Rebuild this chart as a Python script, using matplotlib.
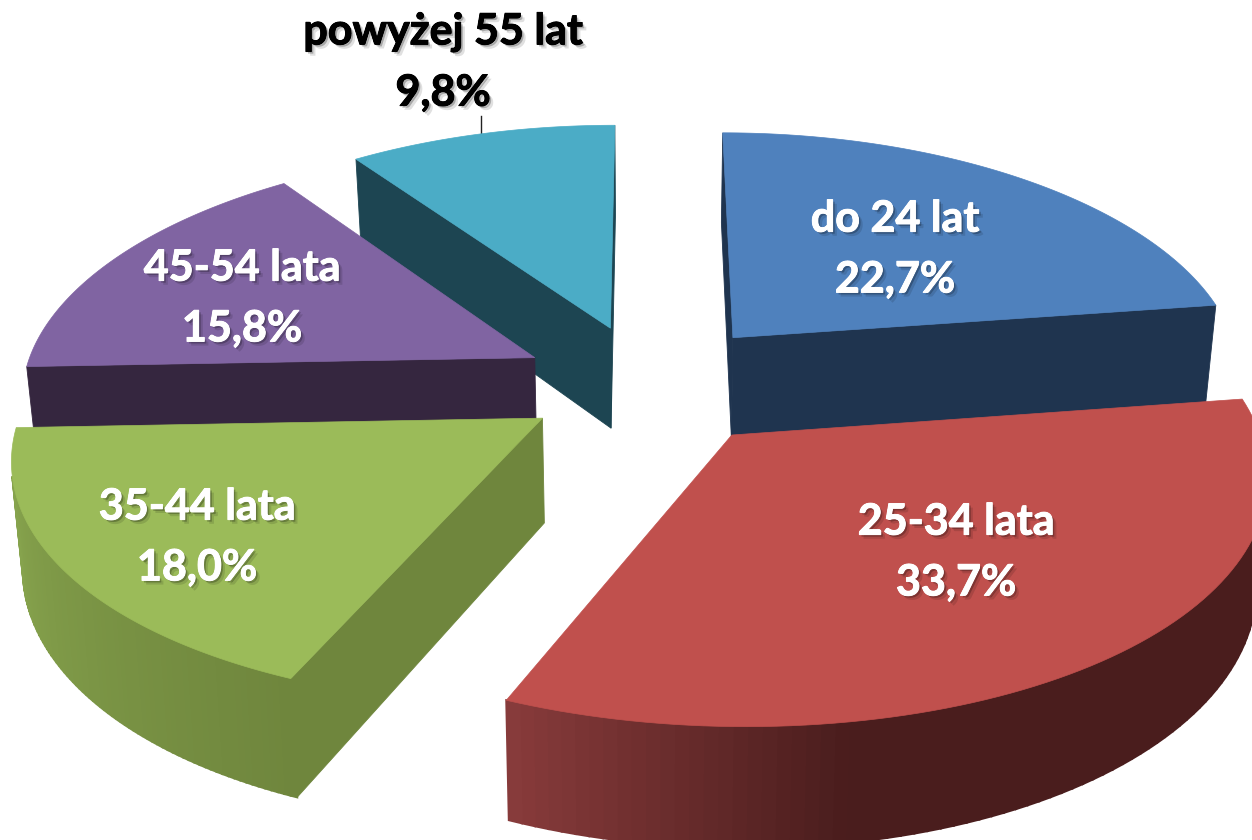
import numpy as np
import matplotlib
matplotlib.use("Agg")
import matplotlib.pyplot as plt
import matplotlib.colors as mcolors
import matplotlib.patheffects as pe
from matplotlib.patches import Polygon

# order: clockwise from 12 o'clock
categories = ["do 24 lat", "25-34 lata", "35-44 lata", "45-54 lata", "powyżej 55 lat"]
shares = [22.7, 33.7, 18.0, 15.8, 9.8]
share_labels = ["22,7%", "33,7%", "18,0%", "15,8%", "9,8%"]

top_colors = ["#4F81BD", "#C0504D", "#9BBB59", "#8064A2", "#4BACC6"]
wall_colors = ["#1F344F", "#4A1D1D", "#6F863D", "#35263F", "#1D4552"]
# rim gets lighter towards the far end of the slice (only visible on red and green)
rim_light = ["#1F344F", "#8A3C3C", "#8BA950", "#35263F", "#1D4552"]
rim_fade_end = [81.7, 170, 203, 267.8, 324.7]

label_xy = [(895, 249), (956, 552), (197, 537), (242, 298), (443, 62)]

# projection, fitted by eye against the reference
CX, CY = 648, 384
R, Q = 513, 241.3
PERSP_X, PERSP_Y = 0.14, 0.125
DEPTH = 103
BOTTOM_SHRINK = 0.982
EXPLODE = [0.26, 0.26, 0.245, 0.25, 0.25]


def project(u, v, bottom=False):
    sx = 1 / (1 - PERSP_X * v)
    sy = 1 / (1 - PERSP_Y * v)
    x = R * u * sx
    y = CY + Q * v * sy
    if bottom:
        x *= BOTTOM_SHRINK
        y += DEPTH * sy
    return np.column_stack([CX + x, y])


def facing(poly):
    x, y = poly[:, 0], poly[:, 1]
    return np.sum(x * np.roll(y, -1) - np.roll(x, -1) * y) < 0


def draw_wall(ax, top, bottom, color, zorder, lw=0.6):
    poly = np.vstack([top, bottom[::-1]])
    if facing(poly):
        ax.add_patch(Polygon(poly, closed=True, fc=color, ec=color, lw=lw, zorder=zorder))


fig = plt.figure(figsize=(12.52, 8.4), dpi=100)
ax = fig.add_axes([0, 0, 1, 1])
ax.set_xlim(0, 1252)
ax.set_ylim(840, 0)
ax.axis("off")

edges = np.concatenate([[0], np.cumsum(shares)]) / np.sum(shares) * 360
paint_order = [4, 0, 3, 2, 1]

for rank, i in enumerate(paint_order):
    a0, a1 = edges[i], edges[i + 1]
    mid = np.radians((a0 + a1) / 2)
    ou, ov = EXPLODE[i] * np.sin(mid), -EXPLODE[i] * np.cos(mid)

    theta = np.radians(np.linspace(a0, a1, 90))
    ru, rv = ou + np.sin(theta), ov - np.cos(theta)
    apex_top = project(np.array([ou]), np.array([ov]))
    apex_bot = project(np.array([ou]), np.array([ov]), bottom=True)
    rim_top = project(ru, rv)
    rim_bot = project(ru, rv, bottom=True)

    z = 2 + rank * 3
    # radial side walls
    draw_wall(ax, np.vstack([apex_top, rim_top[:1]]), np.vstack([apex_bot, rim_bot[:1]]), wall_colors[i], z)
    draw_wall(ax, np.vstack([rim_top[-1:], apex_top]), np.vstack([rim_bot[-1:], apex_bot]), wall_colors[i], z)

    # outer rim in short strips so the shading can change along it
    dark = np.array(mcolors.to_rgb(wall_colors[i]))
    light = np.array(mcolors.to_rgb(rim_light[i]))
    for j in range(len(theta) - 1):
        deg = np.degrees(theta[j])
        t = np.clip((deg - rim_fade_end[i]) / max(a1 - rim_fade_end[i], 1), 0, 1)
        col = dark + (light - dark) * t
        draw_wall(ax, rim_top[j:j + 2], rim_bot[j:j + 2], col, z + 1, lw=1.5)

    top = np.vstack([apex_top, rim_top])
    ax.add_patch(Polygon(top, closed=True, fc=top_colors[i], ec=top_colors[i], lw=0.5, zorder=z + 2))

# leader line of the outside label
ax.plot([481, 481], [116, 134], color="#222222", lw=1, zorder=1)

for i, (x, y) in enumerate(label_xy):
    col = "black" if i == 4 else "white"
    effects = [pe.withSimplePatchShadow(offset=(3, -3), shadow_rgbFace="black", alpha=0.12),
               pe.withSimplePatchShadow(offset=(1.5, -1.5), shadow_rgbFace="black", alpha=0.25),
               pe.Stroke(linewidth=0.7, foreground=col),
               pe.Normal()]
    ax.text(x, y, categories[i] + "\n" + share_labels[i], ha="center", va="center",
            color=col, fontsize=31, fontweight="bold", family=["Lato", "DejaVu Sans"],
            linespacing=1.63, path_effects=effects, zorder=50)

fig.savefig("out.png", dpi=100)
